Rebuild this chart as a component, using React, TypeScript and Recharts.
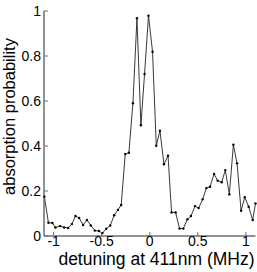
import { LineChart, Line, XAxis, YAxis } from 'recharts';

// detuning values (MHz)
const detuning = [
  -1.096, -1.054, -1.013, -0.981, -0.932, -0.891, -0.849, -0.81, -0.773, -0.734,
  -0.693, -0.654, -0.613, -0.571, -0.529, -0.492, -0.453, -0.411, -0.37, -0.331,
  -0.297, -0.255, -0.217, -0.175, -0.133, -0.092, -0.054, -0.013, 0.029, 0.068,
  0.106, 0.148, 0.19, 0.227, 0.269, 0.31, 0.349, 0.391, 0.429, 0.471,
  0.508, 0.55, 0.589, 0.627, 0.669, 0.706, 0.748, 0.786, 0.828, 0.87,
  0.908, 0.95, 0.988, 1.029, 1.071, 1.1,
];

const absorption = [
  0.175, 0.059, 0.058, 0.038, 0.044, 0.038, 0.036, 0.053, 0.089, 0.08,
  0.049, 0.071, 0.047, 0.024, 0.022, 0.013, 0.032, 0.047, 0.092, 0.116,
  0.138, 0.364, 0.37, 0.59, 0.968, 0.492, 0.72, 0.979, 0.819, 0.401,
  0.468, 0.319, 0.357, 0.105, 0.105, 0.033, 0.033, 0.074, 0.089, 0.133,
  0.124, 0.163, 0.213, 0.219, 0.276, 0.246, 0.239, 0.293, 0.185, 0.406,
  0.323, 0.112, 0.172, 0.13, 0.071, 0.145,
];

const xTicks = [-1, -0.5, 0, 0.5, 1];
const yTicks = [0, 0.2, 0.4, 0.6, 0.8, 1];

const FONT = '"Liberation Sans", Arial, sans-serif';
const FRAME = '#6e6e6e';

const data = detuning.map((x, i) => ({ x, p: absorption[i] }));

const tickStyle = { fontSize: 14, fill: '#000', fontFamily: FONT };

const App = () => {
  return (
    <div style={{ position: 'absolute', left: 0, top: 0 }}>
      <LineChart
        width={257}
        height={272}
        data={data}
        margin={{ top: 11, right: 1.5, bottom: 0, left: 0 }}
      >
        <XAxis
          dataKey="x"
          type="number"
          domain={[-1.1, 1.1]}
          ticks={xTicks}
          tickFormatter={(v: number) => String(v)}
          height={36}
          tickSize={-4}
          tickMargin={4}
          tick={tickStyle}
          axisLine={{ stroke: FRAME, strokeWidth: 1.5 }}
          tickLine={{ stroke: FRAME }}
          label={{
            content: () => (
              <text x={156.5} y={265} textAnchor="middle" fontSize={17.5} fontFamily={FONT} fill="#000">
                detuning at 411nm (MHz)
              </text>
            ),
          }}
        />
        <YAxis
          type="number"
          domain={[0, 1]}
          ticks={yTicks}
          tickFormatter={(v: number) => String(v)}
          width={44}
          tickSize={-4}
          tickMargin={7}
          tick={tickStyle}
          axisLine={{ stroke: FRAME, strokeWidth: 1.5 }}
          tickLine={{ stroke: FRAME }}
          label={{
            content: () => (
              <text
                transform="translate(15,116.5) rotate(-90)"
                textAnchor="middle"
                fontSize={16.5}
                fontFamily={FONT}
                fill="#000"
              >
                absorption probability
              </text>
            ),
          }}
        />
        {/* top and right edges of the box */}
        <XAxis
          xAxisId="top"
          orientation="top"
          type="number"
          domain={[-1.1, 1.1]}
          height={0}
          tick={false}
          tickLine={false}
          axisLine={{ stroke: FRAME, strokeWidth: 1.5 }}
        />
        <YAxis
          yAxisId="right"
          orientation="right"
          type="number"
          domain={[0, 1]}
          width={0}
          tick={false}
          tickLine={false}
          axisLine={{ stroke: FRAME, strokeWidth: 1.5 }}
        />
        <Line
          type="linear"
          dataKey="p"
          stroke="#222"
          strokeWidth={0.9}
          dot={{ r: 1.2, fill: '#000', stroke: 'none' }}
          isAnimationActive={false}
        />
      </LineChart>
    </div>
  );
};

export default App;
